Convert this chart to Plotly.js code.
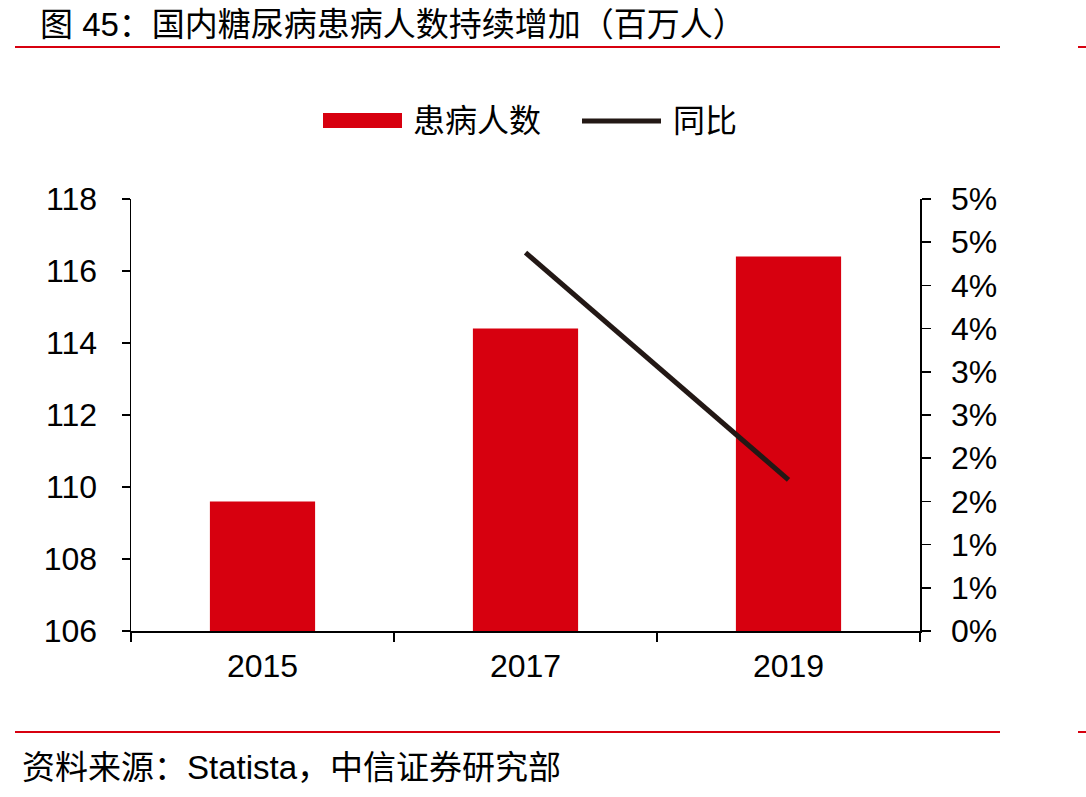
<!DOCTYPE html>
<html>
<head>
<meta charset="utf-8">
<script src="https://cdn.plot.ly/plotly-3.0.1.min.js"></script>
<style>html,body{margin:0;padding:0;background:#fff;}#chart{width:1086px;height:797px;}</style>
</head>
<body>
<div id="chart"></div>
<script>
var years = ['2015', '2017', '2019'];
var patients = [109.6, 114.4, 116.4];
var lineYears = ['2017', '2019'];
var yoy = [0.0438, 0.0175];
var leftTicks = [106, 108, 110, 112, 114, 116, 118];
var rightTickVals = [0, 0.005, 0.01, 0.015, 0.02, 0.025, 0.03, 0.035, 0.04, 0.045, 0.05];
var rightTickText = ['0%', '1%', '1%', '2%', '2%', '3%', '3%', '4%', '4%', '5%', '5%'];
var titleText = '图 45：国内糖尿病患病人数持续增加（百万人）';
var sourceText = '资料来源：Statista，中信证券研究部';
var legendNames = ['患病人数', '同比'];

var L = 131, R = 920, T = 199, B = 631;
function px(x) { return (x - L) / (R - L); }
function py(y) { return (B - y) / (B - T); }

var FONT = 'Liberation Sans, Arial, Noto Sans CJK SC, sans-serif';
var CJK = 'Liberation Sans, Noto Sans CJK SC, sans-serif';
var RED = '#d7000f';
var LINE = '#231815';

var traces = [
  {type: 'bar', x: years, y: patients, name: legendNames[0], marker: {color: RED}, showlegend: false, hoverinfo: 'none'},
  {type: 'scatter', mode: 'lines', x: lineYears, y: yoy, yaxis: 'y2', name: legendNames[1],
   line: {color: LINE, width: 5}, showlegend: false, hoverinfo: 'none'}
];

var layout = {
  width: 1086, height: 797,
  margin: {l: L, r: 1086 - R, t: T, b: 797 - B},
  paper_bgcolor: '#fff', plot_bgcolor: '#fff',
  bargap: 0.6,
  showlegend: false,
  font: {family: FONT, color: '#000'},
  xaxis: {
    type: 'category', showgrid: false, zeroline: false,
    showline: true, linecolor: '#000', linewidth: 1.5,
    ticks: 'outside', tickson: 'boundaries', ticklen: 9, tickcolor: '#000', tickwidth: 1.5,
    tickfont: {family: FONT, size: 32, color: '#000'}, ticklabelstandoff: 6
  },
  yaxis: {
    range: [106, 118], tickvals: leftTicks, showgrid: false, zeroline: false,
    showline: true, linecolor: '#000', linewidth: 1.5,
    ticks: 'outside', ticklen: 8, tickcolor: '#000', tickwidth: 1.5,
    tickfont: {family: FONT, size: 32, color: '#000'}, ticklabelstandoff: 18
  },
  yaxis2: {
    overlaying: 'y', side: 'right', range: [0, 0.05],
    tickvals: rightTickVals, ticktext: rightTickText,
    showgrid: false, zeroline: false,
    showline: true, linecolor: '#000', linewidth: 1.5,
    ticks: 'outside', ticklen: 9, tickcolor: '#000', tickwidth: 1.5,
    tickfont: {family: FONT, size: 32, color: '#000'}, ticklabelstandoff: 14
  },
  shapes: [
    {type: 'line', xref: 'paper', yref: 'paper', x0: px(15), x1: px(1000), y0: py(47), y1: py(47), line: {color: RED, width: 2}},
    {type: 'line', xref: 'paper', yref: 'paper', x0: px(1078), x1: px(1086), y0: py(47), y1: py(47), line: {color: RED, width: 2}},
    {type: 'line', xref: 'paper', yref: 'paper', x0: px(15), x1: px(1000), y0: py(732), y1: py(732), line: {color: RED, width: 2}},
    {type: 'line', xref: 'paper', yref: 'paper', x0: px(1078), x1: px(1086), y0: py(732), y1: py(732), line: {color: RED, width: 2}},
    {type: 'rect', xref: 'paper', yref: 'paper', x0: px(323), x1: px(402), y0: py(128), y1: py(113), fillcolor: RED, line: {width: 0}},
    {type: 'line', xref: 'paper', yref: 'paper', x0: px(582), x1: px(661), y0: py(121), y1: py(121), line: {color: LINE, width: 5}}
  ],
  annotations: [
    {text: titleText, xref: 'paper', yref: 'paper', x: px(38), y: py(24), xanchor: 'left', yanchor: 'middle',
     showarrow: false, font: {family: CJK, size: 33, color: '#000'}},
    {text: sourceText, xref: 'paper', yref: 'paper', x: px(20), y: py(767), xanchor: 'left', yanchor: 'middle',
     showarrow: false, font: {family: CJK, size: 33, color: '#000'}},
    {text: legendNames[0], xref: 'paper', yref: 'paper', x: px(411), y: py(121), xanchor: 'left', yanchor: 'middle',
     showarrow: false, font: {family: CJK, size: 32, color: '#000'}},
    {text: legendNames[1], xref: 'paper', yref: 'paper', x: px(671), y: py(121), xanchor: 'left', yanchor: 'middle',
     showarrow: false, font: {family: CJK, size: 32, color: '#000'}}
  ]
};

Plotly.newPlot('chart', traces, layout, {staticPlot: true, displayModeBar: false});
</script>
</body>
</html>
